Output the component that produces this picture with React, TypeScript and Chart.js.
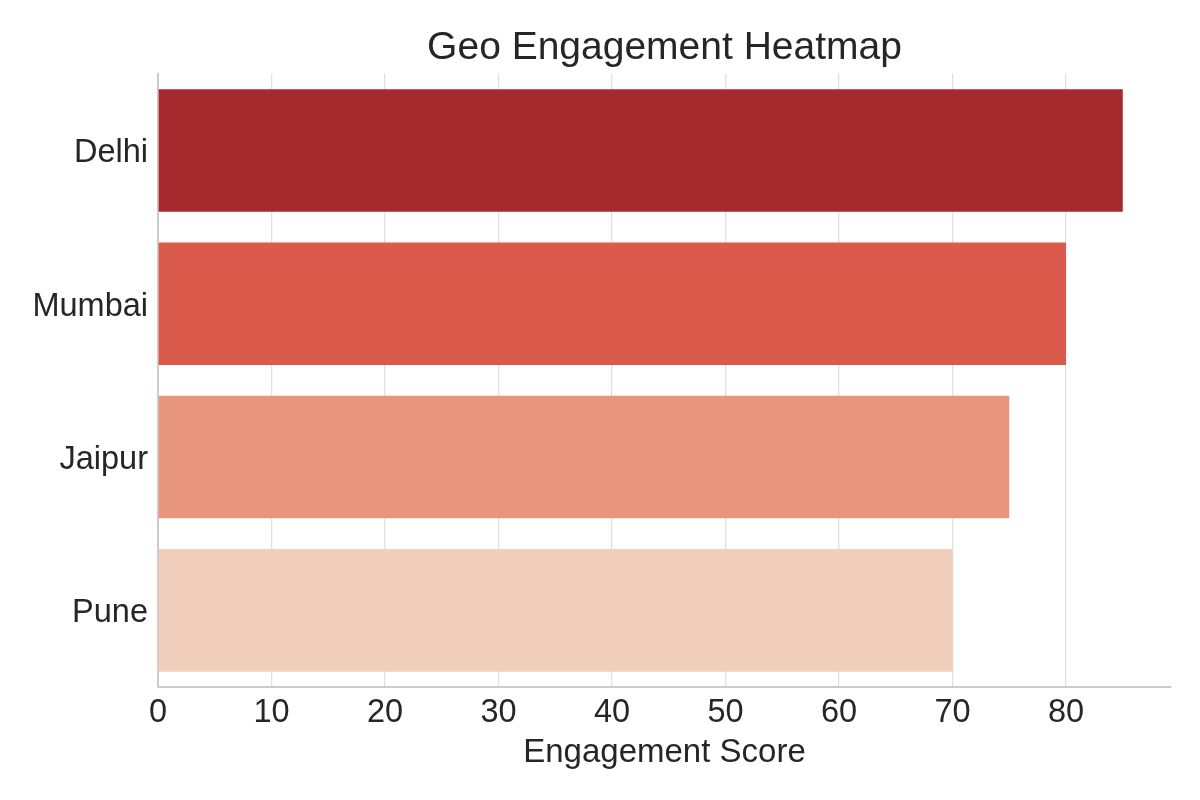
import { useEffect, useRef } from "react";
import { Chart, registerables } from "chart.js";

Chart.register(...registerables);

// chart data
const cities = ["Delhi", "Mumbai", "Jaipur", "Pune"];
const scores = [85, 80, 75, 70];
const barColors = ["#a6292e", "#da5a4c", "#e8957d", "#f2cebd"];
const xTicks = [0, 10, 20, 30, 40, 50, 60, 70, 80];

const FONT = "'Liberation Sans', Arial, sans-serif";
const TEXT = "#262626";

export default function App() {
  const chartRef = useRef<HTMLCanvasElement>(null);
  const chartInstance = useRef<Chart | null>(null);

  useEffect(() => {
    if (!chartRef.current) return;
    if (chartInstance.current) chartInstance.current.destroy();

    const ctx = chartRef.current.getContext("2d");
    if (!ctx) return;

    chartInstance.current = new Chart(ctx, {
      type: "bar",
      data: {
        labels: cities,
        datasets: [
          {
            label: "Engagement Score",
            data: scores,
            backgroundColor: barColors,
            borderWidth: 0,
            categoryPercentage: 1,
            barPercentage: 0.8,
          },
        ],
      },
      options: {
        indexAxis: "y",
        responsive: true,
        maintainAspectRatio: false,
        animation: false,
        devicePixelRatio: 1,
        layout: {
          padding: { left: 0, right: 29, top: 0, bottom: 0 },
        },
        plugins: {
          legend: { display: false },
          tooltip: { enabled: false },
          title: {
            display: true,
            fullSize: false, // centre over the plot area, like matplotlib
            text: "Geo Engagement Heatmap",
            color: TEXT,
            font: { family: FONT, size: 39, weight: "normal" },
            padding: { top: 25, bottom: 2 },
          },
        },
        scales: {
          x: {
            type: "linear",
            min: 0,
            max: 89.25,
            afterFit: (scale: any) => {
              scale.height = 113;
            },
            afterBuildTicks: (scale: any) => {
              scale.ticks = xTicks.map((v) => ({ value: v }));
            },
            grid: {
              display: true,
              color: "#e0e0e0",
              lineWidth: 1.3,
              drawTicks: false,
            },
            border: { display: true, color: "#cccccc", width: 2 },
            ticks: {
              color: TEXT,
              padding: 7,
              font: { family: FONT, size: 32.5 },
            },
            title: {
              display: true,
              text: "Engagement Score",
              color: TEXT,
              font: { family: FONT, size: 33 },
              padding: { top: 4, bottom: 27 },
            },
          },
          y: {
            afterFit: (scale: any) => {
              scale.width = 158;
            },
            grid: { display: false, drawTicks: false },
            border: { display: true, color: "#cccccc", width: 2 },
            ticks: {
              color: TEXT,
              padding: 10,
              labelOffset: 3,
              font: { family: FONT, size: 32.5 },
            },
          },
        },
      },
    });

    return () => {
      if (chartInstance.current) {
        chartInstance.current.destroy();
        chartInstance.current = null;
      }
    };
  }, []);

  return (
    <div
      style={{
        position: "fixed",
        left: 0,
        top: 0,
        width: 1200,
        height: 800,
        background: "#ffffff",
      }}
    >
      <canvas ref={chartRef}></canvas>
    </div>
  );
}
